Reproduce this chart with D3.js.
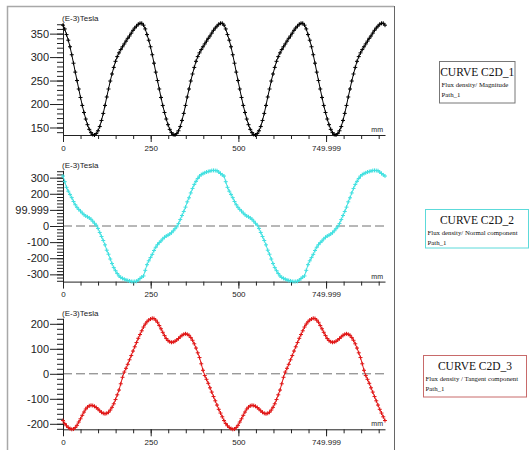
<!DOCTYPE html>
<html>
<head>
<meta charset="utf-8">
<script src="https://d3js.org/d3.v7.min.js"></script>
<style>
body { margin: 0; background: #fff; }
svg { display: block; }
</style>
</head>
<body>
<script>
// path abscissa (mm), sampled evenly along the path
var pathLength = 918;
var xTicks = [0, 250, 500, 750];
var xTickLabels = ["0", "250", "500", "749.999"];

// (E-3) Tesla
var magnitude = [
  368,360,348,336,322,305,287,268,250,232,214,197,182,168,156,146,139,135,134,137,143,152,165,180,197,215,232,249,264,278,291,301,309,316,322,328,334,340,345,351,357,362,366,370,372,372,
  368,360,348,336,322,305,287,268,250,232,214,197,182,168,156,146,139,135,134,137,143,152,165,180,197,215,232,249,264,278,291,301,309,316,322,328,334,340,345,351,357,362,366,370,372,372,
  368,360,348,336,322,305,287,268,250,232,214,197,182,168,156,146,139,135,134,137,143,152,165,180,197,215,232,249,264,278,291,301,309,316,322,328,334,340,345,351,357,362,366,370,372,372,
  368,360,348,336,322,305,287,268,250,232,214,197,182,168,156,146,139,135,134,137,143,152,165,180,197,215,232,249,264,278,291,301,309,316,322,328,334,340,345,351,357,362,366,370,372,372,
  368
];
var normal = [
  310,275,240,216,196,176,152,132,116,103,93,80,70,62,57,50,42,30,17,5,-15,-40,-65,-90,-117,-150,-175,-205,-233,-258,-277,-295,-310,-319,-325,-330,-335,-338,-341,-344,-345,-344,-343,-335,-326,-317,
  -310,-275,-240,-216,-196,-176,-152,-132,-116,-103,-93,-80,-70,-62,-57,-50,-42,-30,-17,-5,15,40,65,90,117,150,175,205,233,258,277,295,310,319,325,330,335,338,341,344,345,344,343,335,326,317,
  310,275,240,216,196,176,152,132,116,103,93,80,70,62,57,50,42,30,17,5,-15,-40,-65,-90,-117,-150,-175,-205,-233,-258,-277,-295,-310,-319,-325,-330,-335,-338,-341,-344,-345,-344,-343,-335,-326,-317,
  -310,-275,-240,-216,-196,-176,-152,-132,-116,-103,-93,-80,-70,-62,-57,-50,-42,-30,-17,-5,15,40,65,90,117,150,175,205,233,258,277,295,310,319,325,330,335,338,341,344,345,344,343,335,326,317,
  310
];
var tangent = [
  -187,-199,-208,-215,-219,-222,-221,-215,-206,-193,-180,-166,-153,-141,-133,-128,-126,-127,-130,-135,-141,-148,-154,-158,-160,-158,-154,-145,-134,-120,-103,-84,-65,-40,-14,7,22,38,56,73,91,108,125,142,157,172,
  187,199,208,215,219,222,221,215,206,193,180,166,153,141,133,128,126,127,130,135,141,148,154,158,160,158,154,145,134,120,103,84,65,40,14,-7,-22,-38,-56,-73,-91,-108,-125,-142,-157,-172,
  -187,-199,-208,-215,-219,-222,-221,-215,-206,-193,-180,-166,-153,-141,-133,-128,-126,-127,-130,-135,-141,-148,-154,-158,-160,-158,-154,-145,-134,-120,-103,-84,-65,-40,-14,7,22,38,56,73,91,108,125,142,157,172,
  187,199,208,215,219,222,221,215,206,193,180,166,153,141,133,128,126,127,130,135,141,148,154,158,160,158,154,145,134,120,103,84,65,40,14,-7,-22,-38,-56,-73,-91,-108,-125,-142,-157,-172,
  -187
];

var magTicks = [350, 300, 250, 200, 150];
var magTickLabels = ["350", "300", "250", "200", "150"];
var normTicks = [300, 200, 100, 0, -100, -200, -300];
var normTickLabels = ["300", "200", "99.999", "0", "-100", "-200", "-300"];
var tangTicks = [200, 100, 0, -100, -200];
var tangTickLabels = ["200", "100", "0", "-100", "-200"];

var curveNames = ["CURVE C2D_1", "CURVE C2D_2", "CURVE C2D_3"];
var curveDescs = ["Flux density/ Magnitude", "Flux density/ Normal component", "Flux density / Tangent component"];
var curvePaths = ["Path_1", "Path_1", "Path_1"];

var narrow = "'Liberation Sans Narrow', 'Arial Narrow', 'Liberation Sans', Arial, sans-serif";
var serif = "'Liberation Serif', 'Times New Roman', serif";

var svg = d3.select("body").append("svg")
    .attr("width", 529)
    .attr("height", 450);

// outer frame
svg.append("path")
    .attr("d", "M7.5,450 V6.5 H394")
    .attr("fill", "none")
    .attr("stroke", "#a8a8a8")
    .attr("stroke-width", 1.5);
svg.append("line")
    .attr("x1", 394.5).attr("x2", 394.5)
    .attr("y1", 6).attr("y2", 450)
    .attr("stroke", "#666");

var x = d3.scaleLinear().domain([0, pathLength]).range([63, 385]);
var n = magnitude.length;
var dist = d3.range(n).map(function(i) { return i * pathLength / (n - 1); });

var panels = [
  {values: magnitude, ticks: magTicks, labels: magTickLabels, color: "#000", top: 23.3, bottom: 135, minor: 10, zero: false,
   box: {x: 439.5, y: 61.5, w: 75.5, h: 41.5, stroke: "#777"}},
  {values: normal, ticks: normTicks, labels: normTickLabels, color: "#40e0e0", top: 170.4, bottom: 281.6, minor: 20, zero: true,
   box: {x: 425.5, y: 209.5, w: 103, h: 38.5, stroke: "#5cdada"}},
  {values: tangent, ticks: tangTicks, labels: tangTickLabels, color: "#e01515", top: 318.3, bottom: 429.3, minor: 20, zero: true,
   box: {x: 423.5, y: 355.5, w: 103, h: 41.5, stroke: "#c86a6a"}}
];

panels.forEach(function(p, k) {
  var ext = d3.extent(p.values);
  var y = d3.scaleLinear().domain(ext).range([p.bottom, p.top]);
  var g = svg.append("g");

  if (p.zero) {
    g.append("line")
      .attr("x1", x(0)).attr("x2", x(pathLength))
      .attr("y1", y(0)).attr("y2", y(0))
      .attr("stroke", "#707070")
      .attr("stroke-dasharray", "9,4");
  }

  // minor y ticks
  var minorY = d3.range(Math.ceil(ext[0] / p.minor) * p.minor, ext[1] + 0.001, p.minor);
  g.append("g")
    .attr("transform", "translate(" + x(0) + ",0)")
    .call(d3.axisLeft(y).tickValues(minorY).tickFormat("").tickSize(6).tickSizeOuter(0))
    .call(function(a) { a.selectAll("line,path").attr("stroke", "#222"); });

  // major y ticks
  g.append("g")
    .attr("transform", "translate(" + x(0) + ",0)")
    .call(d3.axisLeft(y).tickValues(p.ticks).tickFormat(function(d, i) { return p.labels[i]; })
      .tickSize(13).tickPadding(1).tickSizeOuter(0))
    .call(function(a) {
      a.selectAll("line,path").attr("stroke", "#222");
      a.selectAll("text").attr("font-family", narrow).attr("font-size", 11).attr("fill", "#222");
    });

  // x axis, minor then labelled
  g.append("g")
    .attr("transform", "translate(0," + p.bottom + ")")
    .call(d3.axisBottom(x).tickValues(d3.range(0, 901, 50)).tickFormat("").tickSize(4).tickSizeOuter(0))
    .call(function(a) { a.selectAll("line,path").attr("stroke", "#222"); });
  g.append("g")
    .attr("transform", "translate(0," + p.bottom + ")")
    .call(d3.axisBottom(x).tickValues(xTicks).tickFormat(function(d, i) { return xTickLabels[i]; })
      .tickSize(7).tickPadding(3).tickSizeOuter(0))
    .call(function(a) {
      a.select(".domain").remove();
      a.selectAll("line").attr("stroke", "#222");
      a.selectAll("text").attr("font-family", narrow).attr("font-size", 8).attr("fill", "#222");
    });

  g.append("text")
    .attr("x", x(0) - 1).attr("y", p.top - 2.5)
    .attr("font-family", narrow).attr("font-size", 8).attr("fill", "#222")
    .text("(E-3)Tesla");
  g.append("text")
    .attr("x", 383).attr("y", p.bottom - 3)
    .attr("text-anchor", "end")
    .attr("font-family", narrow).attr("font-size", 7).attr("fill", "#222")
    .text("mm");

  var line = d3.line().x(function(d, i) { return x(dist[i]); }).y(function(d) { return y(d); });
  g.append("path")
    .attr("d", line(p.values))
    .attr("fill", "none")
    .attr("stroke", p.color)
    .attr("stroke-width", 1);

  var marks = p.values.map(function(d, i) {
    var cx = x(dist[i]), cy = y(d);
    return "M" + (cx - 2) + "," + cy + "h4M" + cx + "," + (cy - 2) + "v4";
  }).join("");
  g.append("path")
    .attr("d", marks)
    .attr("fill", "none")
    .attr("stroke", p.color)
    .attr("stroke-width", 1);

  // legend box
  var b = p.box;
  var lg = svg.append("g");
  lg.append("rect")
    .attr("x", b.x).attr("y", b.y).attr("width", b.w).attr("height", b.h)
    .attr("fill", "#fff").attr("stroke", b.stroke);
  lg.append("text")
    .attr("x", b.x + b.w / 2).attr("y", b.y + 14)
    .attr("text-anchor", "middle")
    .attr("font-family", serif).attr("font-size", 11.5).attr("fill", "#111")
    .text(curveNames[k]);
  lg.append("text")
    .attr("x", b.x + 2).attr("y", b.y + 25.5)
    .attr("font-family", serif).attr("font-size", 6.8).attr("fill", "#111")
    .text(curveDescs[k]);
  lg.append("text")
    .attr("x", b.x + 2).attr("y", b.y + 35.5)
    .attr("font-family", serif).attr("font-size", 6.8).attr("fill", "#111")
    .text(curvePaths[k]);
});
</script>
</body>
</html>
